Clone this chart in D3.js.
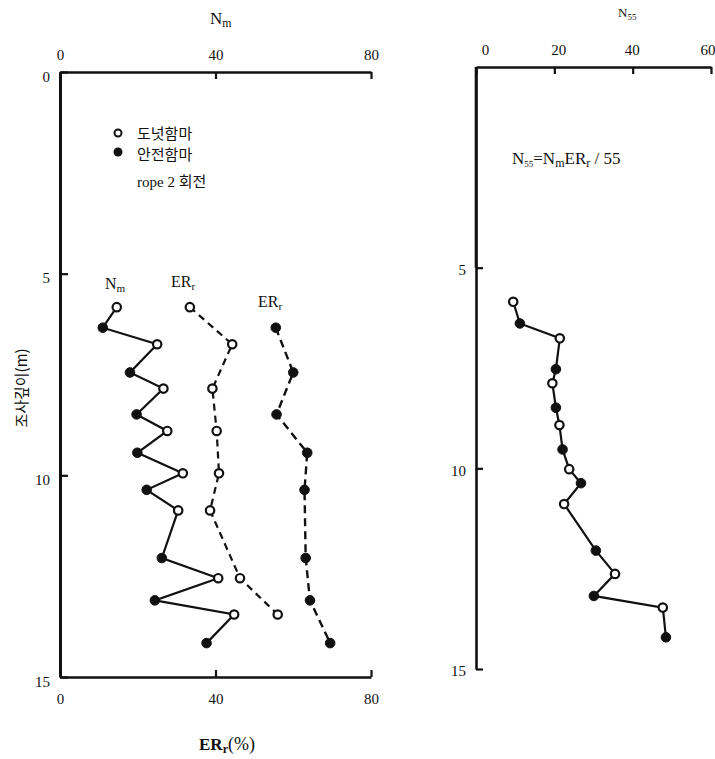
<!DOCTYPE html>
<html><head><meta charset="utf-8">
<script src="https://cdn.jsdelivr.net/npm/d3@7"></script>
<style>
body{margin:0;background:#fff;}
svg{display:block;}
text{font-family:"Liberation Serif","DejaVu Serif",serif;fill:#111;}
.kr{font-family:"Noto Sans CJK KR","Noto Sans",sans-serif;}
</style></head>
<body>
<svg id="c" width="715" height="759"></svg>
<script>
// ---- data ----
const depthOpen   = [5.83, 6.75, 7.85, 8.90, 9.95, 10.87, 12.55, 13.45];
const depthFilled = [6.34, 7.45, 8.49, 9.44, 10.36, 12.05, 13.10, 14.16];
const nmOpen   = [14.6, 25.0, 26.6, 27.6, 31.6, 30.4, 40.7, 44.8];
const nmFilled = [11.0, 18.0, 19.7, 19.9, 22.3, 26.2, 24.4, 37.7];
const erOpen   = [33.4, 44.3, 39.2, 40.3, 40.9, 38.6, 46.3, 56.0];
const erFilled = [55.5, 60.0, 55.7, 63.6, 62.9, 63.2, 64.3, 69.5];
const depthOpenR   = [5.85, 6.76, 7.88, 8.92, 10.02, 10.89, 12.63, 13.47];
const depthFilledR = [6.39, 7.53, 8.49, 9.53, 10.37, 12.05, 13.18, 14.21];
const n55Open   = [9.5, 21.4, 19.5, 21.3, 23.8, 22.5, 35.5, 47.7];
const n55Filled = [11.2, 20.4, 20.4, 22.1, 26.8, 30.6, 30.1, 48.5];
const leftXTicks  = [0, 40, 80];
const depthTicks  = [0, 5, 10, 15];
const rightXTicks = [0, 20, 40, 60];
const rightYTicks = [5, 10, 15];

const svg = d3.select("#c");

// ---- scales ----
const xL = d3.scaleLinear().domain([0, 80]).range([60, 371]);
const yL = d3.scaleLinear().domain([0, 15]).range([72, 677]);
const xR = d3.scaleLinear().domain([0, 60]).range([476, 711]);
const yR = d3.scaleLinear().domain([0, 15]).range([67, 669]);

function styleAxis(g, fs){
  g.select(".domain").attr("stroke", "#111").attr("stroke-width", 2.6);
  g.selectAll(".tick line").attr("stroke", "#111").attr("stroke-width", 2.2);
  g.selectAll(".tick text").attr("font-size", fs).attr("fill", "#111")
    .attr("font-family", '"Liberation Serif","DejaVu Serif",serif');
}

// ---- left panel axes ----
svg.append("g").attr("transform", `translate(0,${yL(0)})`)
  .call(d3.axisTop(xL).tickValues(leftXTicks).tickSizeInner(-7).tickSizeOuter(0).tickPadding(12))
  .call(g => styleAxis(g, 15));
svg.append("g").attr("transform", `translate(0,${yL(15)})`)
  .call(d3.axisBottom(xL).tickValues(leftXTicks).tickSizeInner(-7).tickSizeOuter(0).tickPadding(16))
  .call(g => styleAxis(g, 15));
svg.append("g").attr("transform", `translate(${xL(0)},0)`)
  .call(d3.axisLeft(yL).tickValues(depthTicks).tickSizeInner(-8).tickSizeOuter(0).tickPadding(10))
  .call(g => styleAxis(g, 15))
  .call(g => g.selectAll(".tick text").attr("dy", "0.6em"))
  .call(g => g.select(".domain").attr("stroke-width", 3));

// ---- right panel axes ----
svg.append("g").attr("transform", `translate(0,${yR(0)})`)
  .call(d3.axisTop(xR).tickValues(rightXTicks).tickSizeInner(-7).tickSizeOuter(0).tickPadding(12))
  .call(g => styleAxis(g, 15))
  .call(g => g.selectAll(".tick text")
    .attr("dx", d => d === 60 ? 4 : 9 - d * 0.25)
    .attr("text-anchor", d => d === 60 ? "end" : "middle"));
svg.append("g").attr("transform", `translate(${xR(0)},0)`)
  .call(d3.axisLeft(yR).tickValues(rightYTicks).tickSizeInner(-7).tickSizeOuter(0).tickPadding(10))
  .call(g => styleAxis(g, 15))
  .call(g => g.selectAll(".tick text").attr("dy", "0.45em"));
svg.append("line").attr("x1", xR(0)).attr("x2", xR(0)).attr("y1", yR(0)).attr("y2", yR(5))
  .attr("stroke", "#111").attr("stroke-width", 2.6);

// ---- helpers ----
function merge(dA, vA, dB, vB){
  const pts = [];
  dA.forEach((d, i) => pts.push({d, v: vA[i], open: true}));
  dB.forEach((d, i) => pts.push({d, v: vB[i], open: false}));
  return pts.sort((a, b) => a.d - b.d);
}
function drawLine(pts, x, y, dash, w){
  svg.append("path").datum(pts)
    .attr("d", d3.line().x(p => x(p.v)).y(p => y(p.d)))
    .attr("fill", "none").attr("stroke", "#111").attr("stroke-width", w)
    .attr("stroke-dasharray", dash || null);
}
function drawPts(pts, x, y){
  svg.append("g").selectAll("circle").data(pts).join("circle")
    .attr("cx", p => x(p.v)).attr("cy", p => y(p.d))
    .attr("r", p => p.open ? 4.2 : 4.8)
    .attr("fill", p => p.open ? "#fff" : "#111")
    .attr("stroke", "#111").attr("stroke-width", p => p.open ? 2.2 : 1);
}

// ---- left panel series ----
const nmPts = merge(depthOpen, nmOpen, depthFilled, nmFilled);
const erOpenPts = depthOpen.map((d, i) => ({d, v: erOpen[i], open: true}));
const erFilledPts = depthFilled.map((d, i) => ({d, v: erFilled[i], open: false}));
drawLine(nmPts, xL, yL, null, 2.2);
drawLine(erOpenPts, xL, yL, "7,5", 2.2);
drawLine(erFilledPts, xL, yL, "8,5", 2.4);
drawPts(nmPts, xL, yL);
drawPts(erOpenPts, xL, yL);
drawPts(erFilledPts, xL, yL);

// ---- right panel series ----
const n55Pts = merge(depthOpenR, n55Open, depthFilledR, n55Filled);
drawLine(n55Pts, xR, yR, null, 2.2);
drawPts(n55Pts, xR, yR);

// ---- texts ----
function sub(t, main, s, fs){
  t.append("tspan").text(main);
  t.append("tspan").text(s).attr("font-size", fs * 0.7).attr("dy", 3);
  return t;
}
sub(svg.append("text").attr("x", 210).attr("y", 24).attr("font-size", 17), "N", "m", 17);
(function(){
  const t = svg.append("text").attr("x", 199).attr("y", 750).attr("font-size", 17).attr("font-weight", "bold");
  t.append("tspan").text("ER");
  t.append("tspan").text("r").attr("font-size", 12).attr("dy", 3);
  t.append("tspan").text("(%)").attr("dy", -3).attr("font-weight", "normal").attr("font-size", 18);
})();
svg.append("text").attr("class", "kr")
  .attr("transform", "translate(27,388) rotate(-90)")
  .attr("text-anchor", "middle").attr("font-size", 15).text("조사깊이(m)");

// legend
svg.append("circle").attr("cx", 118).attr("cy", 133).attr("r", 3.5)
  .attr("fill", "#fff").attr("stroke", "#111").attr("stroke-width", 2);
svg.append("circle").attr("cx", 118).attr("cy", 152).attr("r", 4.5).attr("fill", "#111");
svg.append("text").attr("class", "kr").attr("x", 137).attr("y", 139).attr("font-size", 15).text("도넛함마");
svg.append("text").attr("class", "kr").attr("x", 137).attr("y", 160).attr("font-size", 15).text("안전함마");
(function(){
  const t = svg.append("text").attr("x", 137).attr("y", 187).attr("font-size", 15);
  t.append("tspan").text("rope 2 ");
  t.append("tspan").attr("class", "kr").text("회전");
})();

// series labels
sub(svg.append("text").attr("x", 105).attr("y", 289).attr("font-size", 16), "N", "m", 16);
sub(svg.append("text").attr("x", 171).attr("y", 287).attr("font-size", 16), "ER", "r", 16);
sub(svg.append("text").attr("x", 258).attr("y", 307).attr("font-size", 16), "ER", "r", 16);

// right title
sub(svg.append("text").attr("x", 618).attr("y", 17).attr("font-size", 13).attr("fill", "#555"), "N", "55", 13);

// formula
(function(){
  const t = svg.append("text").attr("x", 512).attr("y", 164).attr("font-size", 17);
  t.append("tspan").text("N");
  t.append("tspan").text("55").attr("font-size", 9).attr("dy", 3);
  t.append("tspan").text("=N").attr("dy", -3);
  t.append("tspan").text("m").attr("font-size", 12).attr("dy", 3);
  t.append("tspan").text("ER").attr("dy", -3);
  t.append("tspan").text("r").attr("font-size", 12).attr("dy", 3);
  t.append("tspan").text(" / 55").attr("dy", -3);
})();
</script>
</body></html>
